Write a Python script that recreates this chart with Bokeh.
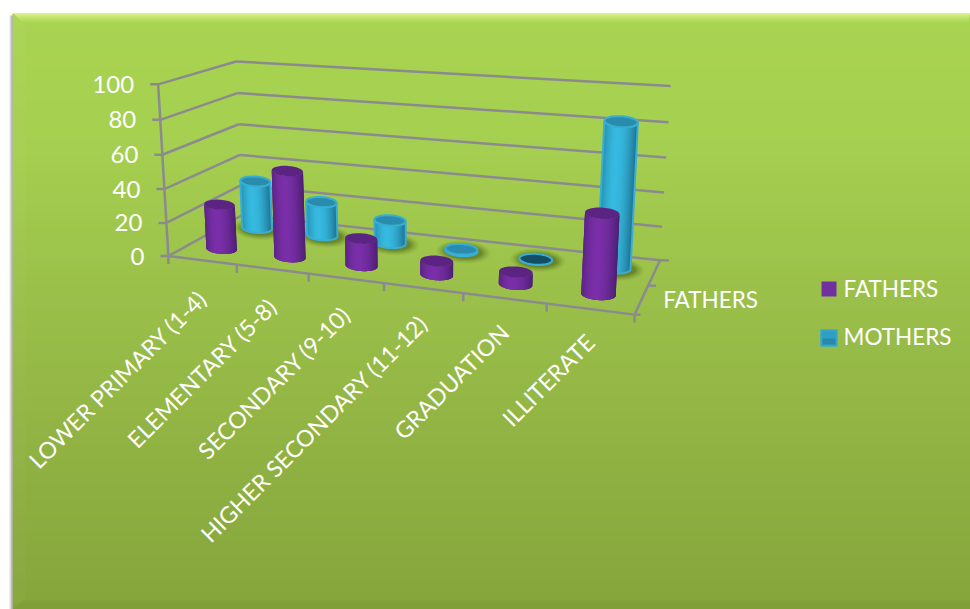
import numpy as np
from bokeh.core.properties import value
from bokeh.embed import file_html
from bokeh.models import Range1d
from bokeh.plotting import figure
from bokeh.resources import INLINE

categories = ["LOWER PRIMARY (1-4)", "ELEMENTARY (5-8)", "SECONDARY (9-10)",
              "HIGHER SECONDARY (11-12)", "GRADUATION", "ILLITERATE"]
fathers = [27, 51, 16, 8, 7, 44]
mothers = [30, 21, 14, 1, 0, 83]
value_ticks = [0, 20, 40, 60, 80, 100]
series_labels = ["FATHERS", "MOTHERS"]
depth_label = "FATHERS"

W, H = 970, 609
FONT = value("Lato")
GRID = "#8b8b8f"

# Camera for the 3D box: (category, depth 0-1, value) -> page position, solved from box corners.
frame_pts = [
    (0, 0, 0, 168, 256), (1, 0, 0, 237, 265), (2, 0, 0, 308, 273), (3, 0, 0, 383, 283),
    (4, 0, 0, 463, 293), (5, 0, 0, 546, 303), (6, 0, 0, 634, 314),
    (0, 0, 20, 166, 222), (0, 0, 40, 164, 188), (0, 0, 60, 162, 154),
    (0, 0, 80, 160, 119), (0, 0, 100, 157, 84),
    (0, 1, 40, 239, 154), (0, 1, 60, 238, 124), (0, 1, 80, 237, 93), (0, 1, 100, 236, 61),
    (6, 1, 0, 659, 260), (6, 1, 20, 662, 226), (6, 1, 40, 664, 191),
    (6, 1, 60, 666, 157), (6, 1, 80, 668, 122), (6, 1, 100, 670, 86),
]
rows, rhs = [], []
for X, Y, Z, px, py in frame_pts:
    rows.append([X, Y, Z, 1, 0, 0, 0, 0, -px * X, -px * Y, -px * Z]); rhs.append(px)
    rows.append([0, 0, 0, 0, X, Y, Z, 1, -py * X, -py * Y, -py * Z]); rhs.append(py)
cam = np.append(np.linalg.lstsq(np.array(rows, float), np.array(rhs, float), rcond=None)[0], 1).reshape(3, 4)


def project(u, w, v):
    q = cam @ np.array([u, w, v, 1.0])
    return q[0] / q[2], q[1] / q[2]


def mix(a, b, t):
    ca = [int(a[i:i + 2], 16) for i in (1, 3, 5)]
    cb = [int(b[i:i + 2], 16) for i in (1, 3, 5)]
    return "#" + "".join(f"{round(x + (y - x) * t):02x}" for x, y in zip(ca, cb))


p = figure(width=W, height=H, x_range=Range1d(0, W), y_range=Range1d(H, 0),
           output_backend="svg", toolbar_location=None, min_border=0,
           background_fill_color="white", border_fill_color="white", outline_line_color=None)
p.axis.visible = False
p.grid.visible = False

# Panel with its vertical gradient and bevelled edges.
LEFT, TOP = 12, 13
stops = [(TOP, "#a9d452"), (150, "#a5cf50"), (300, "#9abf4a"), (450, "#90b243"), (H, "#85a53c")]
ys = np.arange(TOP, H)
cols = []
for y in ys:
    for (y0, c0), (y1, c1) in zip(stops, stops[1:]):
        if y0 <= y <= y1:
            cols.append(mix(c0, c1, (y - y0) / (y1 - y0)))
            break
p.quad(left=LEFT, right=W, top=ys, bottom=ys + 1.5, fill_color=cols, line_color=None)
p.quad(left=[9, 10, 11], right=[10, 11, 12], top=[15] * 3, bottom=[H] * 3,
       fill_color=["#e4e4e4", "#c4c4c4", "#9a9a9a"], line_color=None)
for d, alpha in [(1, .30), (3, .30), (5, .22), (7, .16), (9, .10)]:
    p.patch([LEFT + 1, W, W - 2, LEFT + 1 + d], [TOP, TOP, TOP + d, TOP + d], color="#eaff9a",
            alpha=alpha, line_color=None)
p.patch([LEFT, LEFT + 13, LEFT + 13, LEFT], [TOP, TOP + 13, H - 10, H], color="#ffffff", alpha=.025, line_color=None)
p.patch([LEFT, W, W, LEFT + 10], [H, H, H - 9, H - 9], color="#4a5f14", alpha=.09, line_color=None)

# Box frame: wall gridlines, floor outline and ticks.
xs, ys_ = [], []
def seg(a, b):
    pa, pb = project(*a), project(*b)
    xs.append([pa[0], pb[0]]); ys_.append([pa[1], pb[1]])

for v in value_ticks:
    if v:
        seg((0, 0, v), (0, 1, v))
        seg((0, 1, v), (6, 1, v))
seg((0, 0, 0), (0, 1, 0)); seg((0, 1, 0), (6, 1, 0))
seg((0, 0, 0), (6, 0, 0)); seg((6, 0, 0), (6, 1, 0))
seg((0, 0, 0), (0, 0, 100))
p.multi_line(xs, ys_, line_color=GRID, line_width=2.5)

tx, ty = [], []
for v in value_ticks:
    x, y = project(0, 0, v)
    tx.append([x - 8, x]); ty.append([y, y])
for i in range(7):
    x, y = project(i, 0, 0)
    tx.append([x, x]); ty.append([y, y + 8])
for d, length in [(0, 6), (.5, 8), (1, 9)]:
    x, y = project(6, d, 0)
    tx.append([x, x + length]); ty.append([y, y])
p.multi_line(tx, ty, line_color=GRID, line_width=2.5)


# Cylinders are assembled into one painter-ordered list of polygons.
polys = {"x": [], "y": [], "fill": [], "line": [], "lw": [], "alpha": []}


def add(px_, py_, fill, line=None, lw=0.0, alpha=1.0):
    polys["x"].append(list(px_)); polys["y"].append(list(py_))
    polys["fill"].append(fill); polys["line"].append(line or fill)
    polys["lw"].append(lw); polys["alpha"].append(alpha)


def ellipse(cx, cy, rx, ry, tilt, a0=0, a1=2 * np.pi, n=60):
    t = np.linspace(a0, a1, n)
    ex, ey = rx * np.cos(t), ry * np.sin(t)
    return cx + ex, cy + ey + ex * tilt


def cylinder(i, depth, val, style):
    u = i + .5
    bx, by = project(u, depth, 0)
    tx_, ty_ = project(u, depth, val)
    lx, ly = project(u - .5, depth, 0)
    rx_, ry_ = project(u + .5, depth, 0)
    rx = 1.87 * np.sqrt(rx_ - lx)
    ry = rx * .33
    tilt = (ry_ - ly) / (rx_ - lx) * .5
    if style["shadow"]:
        for grow, a in [(11, .06), (9, .09), (7, .12), (5, .16), (3, .2)]:
            sx, sy = ellipse(bx + 2, by + 1, rx + grow, ry + grow * .55, tilt)
            add(sx, sy, "#3a4a0c", "#3a4a0c", 0, a)
    # Body shading: each slice runs on under the next one, so no seams show between them.
    angles = np.linspace(0, np.pi, 31)
    for k in range(len(angles) - 1):
        a0, a1 = angles[k], angles[min(k + 3, len(angles) - 1)]
        mid = np.cos((angles[k] + angles[k + 1]) / 2)
        c = style["mid"]
        if mid > -.2:
            col = mix(c, style["right"], min(1, ((mid + .2) / 1.2) ** 1.8))
        else:
            col = mix(c, style["left"], min(1, ((-mid - .2) / .8) ** 1.8))
        arc = np.linspace(a0, a1, 5)
        ex, ey = rx * np.cos(arc), ry * np.sin(arc) + rx * np.cos(arc) * tilt
        qx = np.r_[bx + ex, tx_ + ex[::-1]]
        qy = np.r_[by + ey, ty_ + ey[::-1]]
        add(qx, qy, col)
    rim = style["rim"]
    if rim:
        ox, oy = ellipse(bx, by, rx, ry, tilt, 0, np.pi)
        tx2, ty2 = ellipse(tx_, ty_, rx, ry, tilt, np.pi, 0)
        add(np.r_[ox, tx2], np.r_[oy, ty2], "#000000", rim, 2, 0.0)
    cx_, cy_ = ellipse(tx_, ty_, rx, ry, tilt)
    cap = style["cap"] if val > 0 else style["floor_cap"]
    add(cx_, cy_, cap, rim, 2 if rim else 0.0)


purple = dict(mid="#7a2fa8", left="#5c2585", right="#4c1f72", cap="#5b2482", floor_cap="#5b2482",
              rim=None, shadow=False)
blue = dict(mid="#37bae0", left="#2590b0", right="#1d6f8e", cap="#2a8cac", floor_cap="#144e64",
            rim="#38aed4", shadow=True)

for i, v in enumerate(mothers):
    cylinder(i, .75, v, blue)
for i, v in enumerate(fathers):
    cylinder(i, .25, v, purple)

# Fill and outline alphas are separate so a rim can be drawn without a fill.
fill_alpha = polys["alpha"]
line_alpha = [1.0 if a == 0.0 else a for a in polys["alpha"]]
p.patches(polys["x"], polys["y"], fill_color=polys["fill"], line_color=polys["line"],
          line_width=polys["lw"], fill_alpha=fill_alpha, line_alpha=line_alpha)

# Value labels beside the vertical axis.
lx, ly, lt = [], [], []
for v in value_ticks:
    x, y = project(0, 0, v)
    lx.append(x - 24); ly.append(y); lt.append(str(v))
p.text(lx, ly, text=lt, text_font=FONT, text_font_size="24px", text_color="white",
       text_align="right", text_baseline="middle")

# Category labels, slanted and ending below their tick gap.
cx, cy = [], []
for i in range(len(categories)):
    x, y = project(i + .5, 0, 0)
    cx.append(x); cy.append(y + 34 - i)
p.text(cx, cy, text=categories, angle=45, angle_units="deg", text_font=FONT, text_font_size="23px",
       text_color="white", text_align="right", text_baseline="middle")

# Depth axis label and legend.
x, y = project(6, .5, 0)
p.text([x + 15], [y + 14], text=[depth_label], text_font=FONT, text_font_size="22.5px", text_color="white",
       text_align="left", text_baseline="middle")

key_y = [288, 336]
p.quad(left=821, right=836, top=281, bottom=296, fill_color="#7030a0", line_color=None)
p.quad(left=820.5, right=836.5, top=329.5, bottom=345.5, fill_color="#2f9fc4", line_color="#3aa9cf", line_width=1.5)
p.quad(left=822, right=835, top=338, bottom=344, fill_color="#25809f", fill_alpha=.7, line_color=None)
p.text([843, 843], key_y, text=series_labels, text_font=FONT, text_font_size="22.5px", text_color="white",
       text_align="left", text_baseline="middle")

open("out.html", "w").write(file_html(p, INLINE))
